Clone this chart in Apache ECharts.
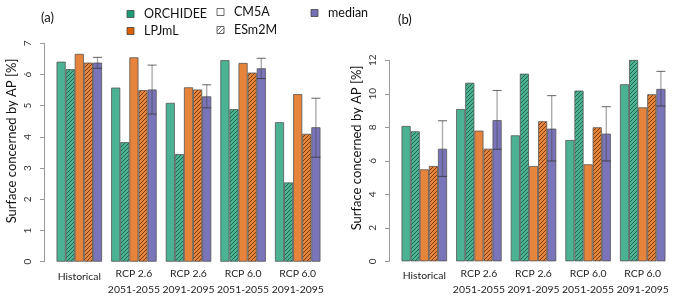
<!DOCTYPE html>
<html><head><meta charset="utf-8">
<script src="https://cdn.jsdelivr.net/npm/echarts@6/dist/echarts.min.js"></script>
<style>html,body{margin:0;padding:0;background:#fff}#c{width:676px;height:301px}</style>
</head><body><div id="c"></div>
<script>
const categories = ['Historical', 'RCP 2.6\n2051-2055', 'RCP 2.6\n2091-2095', 'RCP 6.0\n2051-2055', 'RCP 6.0\n2091-2095'];
// panel (a)
const aOrchCM5A = [6.41, 5.58, 5.09, 6.46, 4.47];
const aOrchESm2M = [6.17, 3.83, 3.45, 4.89, 2.54];
const aLpjCM5A = [6.66, 6.55, 5.59, 6.37, 5.37];
const aLpjESm2M = [6.38, 5.50, 5.52, 6.06, 4.10];
const aMedian = [6.38, 5.52, 5.30, 6.20, 4.31];
const aMedLow = [6.20, 4.73, 4.93, 5.87, 3.35];
const aMedHigh = [6.55, 6.30, 5.67, 6.52, 5.24];
// panel (b)
const bOrchCM5A = [8.08, 9.09, 7.52, 7.24, 10.57];
const bOrchESm2M = [7.76, 10.66, 11.20, 10.19, 12.06];
const bLpjCM5A = [5.49, 7.80, 5.69, 5.79, 9.19];
const bLpjESm2M = [5.69, 6.72, 8.36, 8.00, 9.97];
const bMedian = [6.72, 8.43, 7.92, 7.62, 10.29];
const bMedLow = [5.07, 6.69, 5.99, 5.99, 9.27];
const bMedHigh = [8.39, 10.20, 9.89, 9.23, 11.34];
const aTicks = [0, 7, 1];
const bTicks = [0, 12, 2];

const GREEN = '#4bb393', ORANGE = '#e5843a', PURPLE = '#7a74ba';
function hatch(bg, fg) {
  const c = document.createElement('canvas');
  c.width = 4; c.height = 4;
  const x = c.getContext('2d');
  x.fillStyle = bg; x.fillRect(0, 0, 4, 4);
  x.strokeStyle = fg; x.lineWidth = 1;
  x.beginPath();
  x.moveTo(0, 4); x.lineTo(4, 0);
  x.moveTo(-1, 1); x.lineTo(1, -1);
  x.moveTo(3, 5); x.lineTo(5, 3);
  x.stroke();
  return { image: c, repeat: 'repeat' };
}
const greenH = hatch(GREEN, '#24694f');
const orangeH = hatch(ORANGE, '#7a3d10');
const grayH = hatch('#ffffff', '#777777');

const FONT = 'Lato';
const XFS = 10.4;
const border = { borderColor: '#555', borderWidth: 0.8 };

function errRender(params, api) {
  const i = api.value(0);
  const lo = api.coord([i, api.value(1)]);
  const hi = api.coord([i, api.value(2)]);
  const band = api.size([1, 0])[0];
  const x = lo[0] + band * 2 / 6;
  const hw = band / 12;
  return {
    type: 'group',
    children: [
      { type: 'line', shape: { x1: x, y1: lo[1], x2: x, y2: hi[1] }, style: { stroke: 'rgba(70,70,70,0.45)', lineWidth: 1.4 } },
      { type: 'line', shape: { x1: x - hw, y1: lo[1], x2: x + hw, y2: lo[1] }, style: { stroke: 'rgba(50,50,50,0.75)', lineWidth: 1 } },
      { type: 'line', shape: { x1: x - hw, y1: hi[1], x2: x + hw, y2: hi[1] }, style: { stroke: 'rgba(50,50,50,0.75)', lineWidth: 1 } }
    ]
  };
}

function panelSeries(idx, oA, oE, lA, lE, med, lo, hi) {
  const common = { type: 'bar', xAxisIndex: idx, yAxisIndex: idx, barGap: '0%', barCategoryGap: '16.667%', silent: true };
  return [
    Object.assign({ name: 'ORCHIDEE CM5A', data: oA, itemStyle: Object.assign({ color: GREEN }, border) }, common),
    Object.assign({ name: 'ORCHIDEE ESm2M', data: oE, itemStyle: Object.assign({ color: greenH }, border) }, common),
    Object.assign({ name: 'LPJmL CM5A', data: lA, itemStyle: Object.assign({ color: ORANGE }, border) }, common),
    Object.assign({ name: 'LPJmL ESm2M', data: lE, itemStyle: Object.assign({ color: orangeH }, border) }, common),
    Object.assign({ name: 'median', data: med, itemStyle: Object.assign({ color: PURPLE }, border) }, common),
    {
      type: 'custom', xAxisIndex: idx, yAxisIndex: idx, z: 10, silent: true,
      renderItem: errRender, encode: { x: 0, y: [1, 2] },
      data: categories.map((c, i) => [i, lo[i], hi[i]])
    }
  ];
}

function xAx(idx) {
  return {
    type: 'category', gridIndex: idx, data: categories,
    axisLine: { show: false }, axisTick: { show: false },
    axisLabel: {
      interval: 0, fontFamily: FONT, fontSize: XFS, color: '#222', lineHeight: 16, margin: 4,
      formatter: v => v === 'Historical' ? '{h|Historical}' : v,
      rich: { h: { fontFamily: FONT, fontSize: XFS, color: '#222', padding: [5, 0, 0, 0] } }
    }
  };
}
function yAx(idx, t) {
  return {
    type: 'value', gridIndex: idx, min: t[0], max: t[1], interval: t[2], offset: 8,
    axisLine: { show: true, lineStyle: { color: '#999', width: 1 } },
    axisTick: { show: true, length: 4, lineStyle: { color: '#999' } },
    splitLine: { show: false },
    axisLabel: { rotate: 90, fontFamily: FONT, fontSize: 10, color: '#333', margin: 11 }
  };
}

const tStyle = { fontFamily: FONT, fontSize: 12.5, fill: '#111' };
const legendItems = [
  { x: 127, y: 14, fill: '#1b9e77', text: 'ORCHIDEE' },
  { x: 127, y: 31, fill: '#d95f02', text: 'LPJmL' },
  { x: 217, y: 12, fill: '#ffffff', text: 'CM5A' },
  { x: 217, y: 30, fill: grayH, text: 'ESm2M' },
  { x: 311, y: 13, fill: '#7570b3', text: 'median' }
];
const graphic = [
  { type: 'text', left: 41, top: 11, style: { text: '(a)', fontFamily: FONT, fontSize: 13, fill: '#111' } },
  { type: 'text', left: 398, top: 13, style: { text: '(b)', fontFamily: FONT, fontSize: 13, fill: '#111' } },
  { type: 'text', x: 12, y: 141, rotation: Math.PI / 2, style: { text: 'Surface concerned by AP [%]', fontFamily: FONT, fontSize: 13, fill: '#111', align: 'center', verticalAlign: 'middle' } },
  { type: 'text', x: 357, y: 148, rotation: Math.PI / 2, style: { text: 'Surface concerned by AP [%]', fontFamily: FONT, fontSize: 13, fill: '#111', align: 'center', verticalAlign: 'middle' } }
];
legendItems.forEach(it => {
  graphic.push({ type: 'rect', shape: { x: it.x, y: it.y - 3.5, width: 7, height: 7 }, style: { fill: it.fill, stroke: '#444', lineWidth: 0.8 } });
  graphic.push({ type: 'text', x: it.x + 17, y: it.y, style: Object.assign({ text: it.text, verticalAlign: 'middle', align: 'left' }, tStyle) });
});

const chart = echarts.init(document.getElementById('c'), null, { renderer: 'canvas' });
chart.setOption({
  animation: false,
  backgroundColor: '#fff',
  grid: [
    { left: 52, top: 43.3, width: 273, height: 218.4 },
    { left: 397, top: 60.3, width: 273, height: 201 }
  ],
  xAxis: [xAx(0), xAx(1)],
  yAxis: [yAx(0, aTicks), yAx(1, bTicks)],
  series: panelSeries(0, aOrchCM5A, aOrchESm2M, aLpjCM5A, aLpjESm2M, aMedian, aMedLow, aMedHigh)
    .concat(panelSeries(1, bOrchCM5A, bOrchESm2M, bLpjCM5A, bLpjESm2M, bMedian, bMedLow, bMedHigh)),
  graphic: graphic
});
</script>
</body></html>
